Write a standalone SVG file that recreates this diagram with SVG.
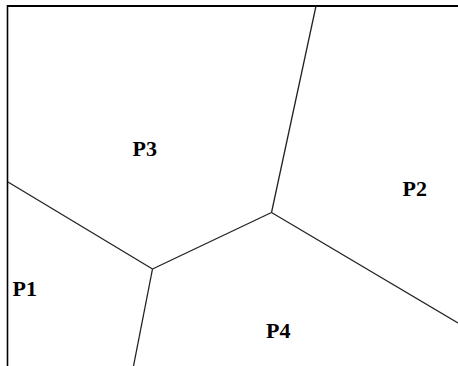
<svg xmlns="http://www.w3.org/2000/svg" width="458" height="366" viewBox="0 0 458 366">
<style>
.edge{stroke:#222;stroke-width:1.3;fill:none}
.border{stroke:#000;fill:none}
.lbl{font-family:"Liberation Serif","Times New Roman",serif;font-weight:bold;font-size:22px;fill:#000}
</style>
<rect width="458" height="366" fill="#fff"/>
<g id="frame">
<line class="border" x1="7" y1="6" x2="458" y2="6" stroke-width="2"/>
<line class="border" x1="7.5" y1="5" x2="7.5" y2="366" stroke-width="1.6"/>
</g>
<g id="connectors">
<line class="edge" x1="8" y1="182" x2="152.5" y2="269"/>
<line class="edge" x1="152.5" y1="269" x2="271.5" y2="212.5"/>
<line class="edge" x1="271.5" y1="212.5" x2="316" y2="6"/>
<line class="edge" x1="271.5" y1="212.5" x2="458" y2="323"/>
<line class="edge" x1="152.5" y1="269" x2="133.5" y2="366"/>
</g>
<g id="P1"><text class="lbl" x="12.5" y="296">P1</text></g>
<g id="P2"><text class="lbl" x="402.5" y="196">P2</text></g>
<g id="P3"><text class="lbl" x="132.5" y="156">P3</text></g>
<g id="P4"><text class="lbl" x="266" y="337.5">P4</text></g>
</svg>
